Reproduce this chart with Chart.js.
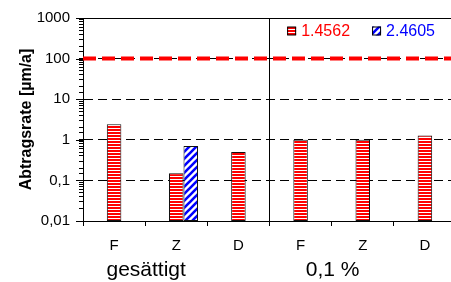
<!DOCTYPE html>
<html>
<head>
<meta charset="utf-8">
<script src="https://cdn.jsdelivr.net/npm/chart.js@4.4.1/dist/chart.umd.min.js"></script>
<style>
  html, body { margin: 0; padding: 0; background: #fff; overflow: hidden; }
  #wrap { width: 458px; height: 282px; }
</style>
</head>
<body>
<div id="wrap"><canvas id="rate-chart"></canvas></div>
<script>
// Data
var categories = ['F', 'Z', 'D', 'F', 'Z', 'D'];
var groupLabels = ['gesättigt', '0,1 %'];
var seriesNames = ['1.4562', '2.4605'];
var rate14562 = [2.4, 0.15, 0.5, 1.0, 1.0, 1.27];
var rate24605 = [null, 0.7, null, null, null, null];
var spacer = [null, null, null, null, null, null];
var limitValue = 100;
var yTickValues = [0.01, 0.1, 1, 10, 100, 1000];
var yTickLabels = ['0,01', '0,1', '1', '10', '100', '1000'];
var gridValues = [0.1, 1, 10, 100];

var FONT = "'Liberation Sans', Arial, sans-serif";

// Fill patterns
function hStripes(){
    var c = document.createElement('canvas');
    c.width = 4; c.height = 3;
    var x = c.getContext('2d');
    x.fillStyle = '#ffffff';
    x.fillRect(0, 0, 4, 3);
    x.fillStyle = '#ff0000';
    x.fillRect(0, 0, 4, 2);
    return x.createPattern(c, 'repeat');
}

function diagStripes(){
    var s = 7;
    var c = document.createElement('canvas');
    c.width = s; c.height = s;
    var x = c.getContext('2d');
    x.fillStyle = '#ffffff';
    x.fillRect(0, 0, s, s);
    x.strokeStyle = '#0000ff';
    x.lineWidth = 2.6;
    x.beginPath();
    x.moveTo(-1, 1); x.lineTo(1, -1);
    x.moveTo(0, s); x.lineTo(s, 0);
    x.moveTo(s - 1, s + 1); x.lineTo(s + 1, s - 1);
    x.stroke();
    return x.createPattern(c, 'repeat');
}

function matchValue(list, value){
    for (var i = 0; i < list.length; i++){
        if (Math.abs(list[i] - value) < list[i] * 1e-6) return i;
    }
    return -1;
}

var redFill = hStripes();
var blueFill = diagStripes();

// legend, group labels, limit line, top frame
var extras = {
    id: 'extras',
    afterDatasetsDraw: function(chart){
        var ctx = chart.ctx;
        var area = chart.chartArea;
        var xs = chart.scales.x;
        var ys = chart.scales.y;

        ctx.save();
        // top frame
        ctx.strokeStyle = '#000';
        ctx.lineWidth = 1;
        ctx.beginPath();
        ctx.moveTo(area.left, area.top + 0.5);
        ctx.lineTo(area.right, area.top + 0.5);
        ctx.stroke();

        // longer marks for the decades
        ys.ticks.forEach(function(t){
            if (matchValue(yTickValues, t.value) < 0) return;
            var ty = Math.round(ys.getPixelForValue(t.value)) + 0.5;
            ctx.beginPath();
            ctx.moveTo(area.left - 7, ty);
            ctx.lineTo(area.left, ty);
            ctx.stroke();
        });

        // limit line
        var ly = ys.getPixelForValue(limitValue);
        ctx.strokeStyle = '#ff0000';
        ctx.lineWidth = 4;
        ctx.setLineDash([13, 6]);
        ctx.beginPath();
        ctx.moveTo(area.left, ly);
        ctx.lineTo(area.right, ly);
        ctx.stroke();
        ctx.setLineDash([]);

        // group labels
        ctx.fillStyle = '#000';
        ctx.font = '21px ' + FONT;
        ctx.textAlign = 'center';
        ctx.textBaseline = 'alphabetic';
        for (var g = 0; g < groupLabels.length; g++){
            var gx = (xs.getPixelForValue(g * 3) + xs.getPixelForValue(g * 3 + 1)) / 2;
            ctx.fillText(groupLabels[g], gx + 1, 276);
        }

        // legend
        var sets = chart.data.datasets.filter(function(d){ return d.label; });
        ctx.font = '16px ' + FONT;
        ctx.textAlign = 'left';
        ctx.textBaseline = 'middle';
        var box = 9, gap = 5, spacing = 22, total = 0;
        sets.forEach(function(d, i){
            total += box + gap + ctx.measureText(d.label).width + (i ? spacing : 0);
        });
        var lx = area.right - 21 - total;
        var cy = area.top + 13;
        sets.forEach(function(d){
            ctx.fillStyle = d.backgroundColor;
            ctx.fillRect(lx, cy - box / 2, box, box);
            ctx.strokeStyle = '#000';
            ctx.lineWidth = 1;
            ctx.strokeRect(lx + 0.5, cy - box / 2 + 0.5, box - 1, box - 1);
            ctx.fillStyle = d.textColor;
            ctx.fillText(d.label, lx + box + gap, cy + 1);
            lx += box + gap + ctx.measureText(d.label).width + spacing;
        });
        ctx.restore();
    }
};

var chart = new Chart(document.getElementById('rate-chart'), {
    type: 'bar',
    data: {
        labels: categories,
        datasets: [
            { label: '', data: spacer },
            {
                label: seriesNames[0],
                data: rate14562,
                backgroundColor: redFill,
                borderColor: '#111',
                borderWidth: 1,
                borderSkipped: false,
                textColor: '#ff0000'
            },
            {
                label: seriesNames[1],
                data: rate24605,
                backgroundColor: blueFill,
                borderColor: '#111',
                borderWidth: 1,
                borderSkipped: false,
                textColor: '#0000ff'
            }
        ]
    },
    options: {
        responsive: true,
        maintainAspectRatio: false,
        animation: false,
        categoryPercentage: 0.7,
        barPercentage: 1,
        layout: { padding: { top: 16, right: 2, left: 0, bottom: 0 } },
        plugins: {
            legend: { display: false },
            tooltip: { enabled: false }
        },
        scales: {
            x: {
                offset: true,
                grid: {
                    offset: true,
                    color: function(c){ return c.index === 3 ? '#000' : 'rgba(0,0,0,0)'; },
                    tickColor: '#000',
                    tickLength: 5
                },
                border: { color: '#000' },
                ticks: {
                    color: '#000',
                    font: { family: FONT, size: 15 },
                    padding: 11,
                    maxRotation: 0,
                    autoSkip: false
                },
                afterFit: function(s){ s.height = 61; }
            },
            y: {
                type: 'logarithmic',
                min: 0.01,
                max: 1000,
                grid: {
                    color: function(c){
                        return c.tick && matchValue(gridValues, c.tick.value) >= 0 ? '#000' : 'rgba(0,0,0,0)';
                    },
                    tickColor: '#000',
                    tickLength: 4
                },
                border: { color: '#000', dash: [9, 5] },
                ticks: {
                    color: '#000',
                    font: { family: FONT, size: 15 },
                    padding: 9,
                    autoSkip: false,
                    callback: function(value){
                        var i = matchValue(yTickValues, value);
                        return i >= 0 ? yTickLabels[i] : '';
                    }
                },
                title: {
                    display: true,
                    text: 'Abtragsrate [µm/a]',
                    color: '#000',
                    font: { family: FONT, size: 16, weight: 'bold' },
                    padding: { top: 17, bottom: 0 }
                },
                afterFit: function(s){ s.width = 83; }
            }
        }
    },
    plugins: [extras]
});
</script>
</body>
</html>
